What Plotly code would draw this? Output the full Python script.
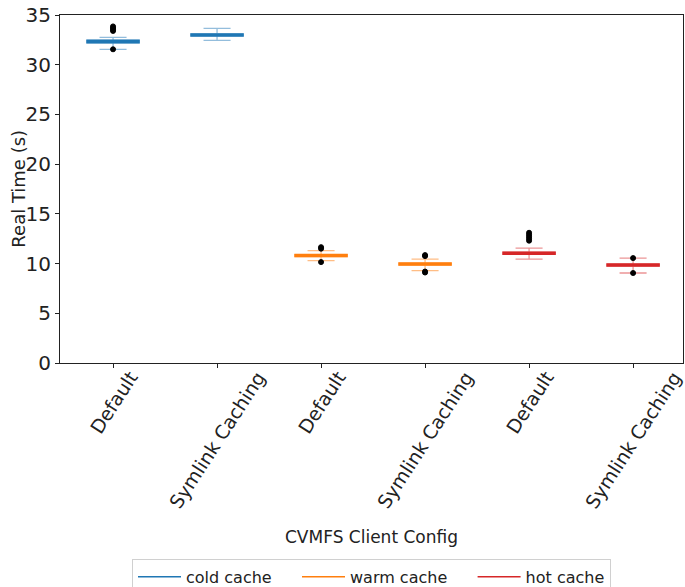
import plotly.graph_objects as go

categories = ["Default", "Symlink Caching", "Default", "Symlink Caching", "Default", "Symlink Caching"]
groups = ["cold cache", "cold cache", "warm cache", "warm cache", "hot cache", "hot cache"]
medians = [32.3, 33.0, 10.8, 9.95, 11.05, 9.85]
q1 = [32.2, 32.9, 10.7, 9.85, 10.95, 9.75]
q3 = [32.45, 33.1, 10.9, 10.05, 11.15, 9.95]
lower_whisker = [31.55, 32.45, 10.3, 9.3, 10.45, 9.05]
upper_whisker = [32.75, 33.65, 11.3, 10.45, 11.55, 10.55]
outliers = [
    [31.55, 33.4, 33.55, 33.7, 33.85],
    [],
    [10.15, 11.5, 11.65],
    [9.1, 9.2, 10.75, 10.85],
    [12.3, 12.5, 12.7, 12.9, 13.1],
    [9.05, 10.55],
]
series_names = ["cold cache", "warm cache", "hot cache"]
dark = {"cold cache": "#1f77b4", "warm cache": "#ff7f0e", "hot cache": "#d62728"}
light = {"cold cache": "#93bddc", "warm cache": "#ffbd85", "hot cache": "#ec9596"}

xs = list(range(len(categories)))
fig = go.Figure()

for i, x in enumerate(xs):
    g = groups[i]
    # whiskers / caps
    fig.add_trace(go.Box(
        x=[x], q1=[q1[i]], median=[medians[i]], q3=[q3[i]],
        lowerfence=[lower_whisker[i]], upperfence=[upper_whisker[i]],
        width=0.5, whiskerwidth=0.52, line=dict(color=light[g], width=1.3),
        fillcolor=light[g], boxpoints=False, showlegend=False, hoverinfo="skip"))
    # box body
    fig.add_trace(go.Box(
        x=[x], q1=[q1[i]], median=[medians[i]], q3=[q3[i]],
        lowerfence=[q1[i]], upperfence=[q3[i]],
        width=0.5, whiskerwidth=0, line=dict(color=dark[g], width=1.5),
        fillcolor=dark[g], boxpoints=False, showlegend=False, hoverinfo="skip"))
    if outliers[i]:
        fig.add_trace(go.Scatter(
            x=[x] * len(outliers[i]), y=outliers[i], mode="markers",
            marker=dict(color="black", size=5, line=dict(color="black", width=1)),
            showlegend=False, hoverinfo="skip"))

# legend entries (trailing spaces mimic column spacing)
pad = "\u00a0" * 4
for k, name in enumerate(series_names):
    label = name + (pad if k < len(series_names) - 1 else "")
    fig.add_trace(go.Scatter(x=[None], y=[None], mode="lines", name=label,
                             line=dict(color=dark[name], width=1.5)))

annotations = [
    dict(text="CVMFS Client Config", x=0.5, y=-0.5, xref="paper", yref="paper",
         xanchor="center", yanchor="middle", showarrow=False, font=dict(size=17)),
    dict(text="Real Time (s)", x=-0.068, y=0.5, xref="paper", yref="paper",
         xanchor="center", yanchor="middle", textangle=-90, showarrow=False,
         font=dict(size=18)),
]
for x, label in zip(xs, categories):
    annotations.append(dict(text=label, x=x, y=0, xref="x", yref="paper",
                            xanchor="center", yanchor="top", yshift=-2,
                            textangle=-57, showarrow=False, font=dict(size=19)))

fig.update_layout(
    width=685, height=587,
    margin=dict(l=60, r=2, t=15, b=224, autoexpand=False),
    paper_bgcolor="white", plot_bgcolor="white",
    font=dict(family="DejaVu Sans", color="#222222"),
    boxmode="overlay",
    showlegend=True,
    legend=dict(orientation="h", x=0.5, xanchor="center", y=-0.563, yanchor="top",
                bordercolor="#d0d0d0", borderwidth=1, font=dict(size=16),
                itemwidth=43, bgcolor="white"),
    xaxis=dict(range=[-0.51, 5.48], tickmode="array", tickvals=xs, ticktext=[""] * len(xs),
               ticks="outside", ticklen=4,
               tickcolor="#222222", showline=True, linecolor="#222222", linewidth=1,
               mirror=True, showgrid=False, zeroline=False, automargin=False),
    yaxis=dict(range=[0, 35], tickvals=[0, 5, 10, 15, 20, 25, 30, 35],
               tickfont=dict(size=20), ticks="outside", ticklen=4, tickcolor="#222222",
               showline=True, linecolor="#222222", linewidth=1, mirror=True,
               showgrid=False, zeroline=False, automargin=False),
    annotations=annotations,
)

fig.write_html("out.html", config={"displayModeBar": False},
               post_script="document.body.style.margin='0';document.body.style.padding='0';")
